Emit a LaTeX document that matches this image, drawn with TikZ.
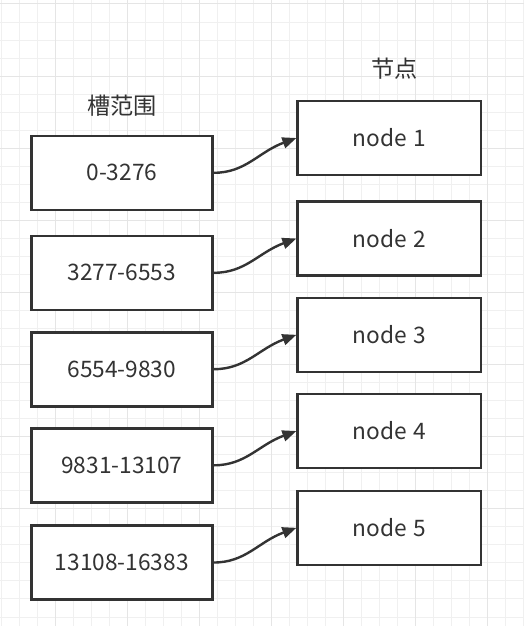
\documentclass[tikz,border=0pt]{standalone}
\usepackage{fontspec}
\setmainfont{Noto Sans CJK SC}
\usetikzlibrary{arrows.meta}
\definecolor{ink}{HTML}{333333}
\definecolor{gridminor}{HTML}{F0F0F0}
\definecolor{gridmajor}{HTML}{E5E5E5}
\newcommand{\wsp}{\hspace{6.5pt}}
\tikzset{
  slotbox/.style={draw=ink, line width=2.6pt, fill=white, minimum width=181.3pt, minimum height=74pt, inner sep=0pt, text=ink, font=\fontsize{22.7}{26}\selectfont},
  nodebox/.style={draw=ink, line width=2.6pt, fill=white, minimum width=183.3pt, minimum height=74pt, inner sep=0pt, text=ink, font=\fontsize{22.7}{26}\selectfont},
  title/.style={text=ink, inner sep=0pt, font=\fontsize{23.2}{27}\selectfont},
  link/.style={draw=ink, line width=2.4pt, -{Triangle[length=14pt,width=11pt]}},
}
\begin{document}
\begin{tikzpicture}[x=1pt,y=-1pt]
\useasboundingbox (0,0) rectangle (524,626);
\fill[white] (0,0) rectangle (524,626);
% grid
\foreach \i in {0,...,29} {
  \draw[gridminor, line width=1pt] ({1.7+18*\i},0) -- ({1.7+18*\i},626);
}
\foreach \i in {0,...,34} {
  \draw[gridminor, line width=1pt] (0,{4+18.03*\i}) -- (524,{4+18.03*\i});
}
\foreach \i in {0,...,6} {
  \draw[gridmajor, line width=1pt] ({55.3+72*\i},0) -- ({55.3+72*\i},626);
}
\foreach \i in {0,...,7} {
  \draw[gridmajor, line width=1pt] (0,{4+72.12*\i}) -- (524,{4+72.12*\i});
}
% titles
\node[title] (t1) at (122,106) {槽范围};
\node[title] (t2) at (394.5,69) {节点};
% left boxes
\node[slotbox] (s1) at (121.85,172.8) {0-3276};
\node[slotbox] (s2) at (121.85,272.8) {3277-6553};
\node[slotbox] (s3) at (121.85,369.2) {6554-9830};
\node[slotbox] (s4) at (121.85,465.3) {9831-13107};
\node[slotbox] (s5) at (121.85,562.5) {13108-16383};
% right boxes
\node[nodebox] (n1) at (389.35,138) {node\wsp1};
\node[nodebox] (n2) at (389.35,238.5) {node\wsp2};
\node[nodebox] (n3) at (389.35,334.8) {node\wsp3};
\node[nodebox] (n4) at (389.35,431) {node\wsp4};
\node[nodebox] (n5) at (389.35,527.8) {node\wsp5};
% connectors
\foreach \k in {1,...,5} {
  \draw[link] (s\k.east) .. controls +(32,0) and +(-38,14) .. (n\k.west);
}
\end{tikzpicture}
\end{document}
